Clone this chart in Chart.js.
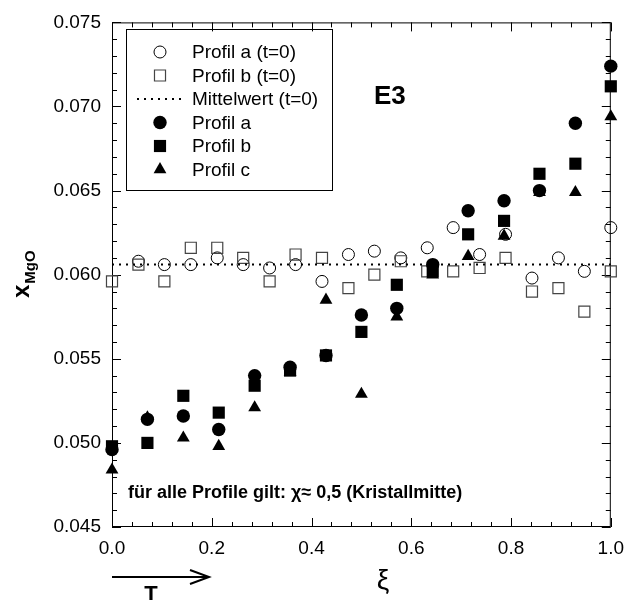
<!DOCTYPE html>
<html>
<head>
<meta charset="utf-8">
<script src="https://cdn.jsdelivr.net/npm/chart.js@4/dist/chart.umd.min.js"></script>
<style>
  html, body { margin: 0; padding: 0; background: #fff; }
  #wrap { width: 634px; height: 600px; }
</style>
</head>
<body>
<div id="wrap"><canvas id="c" width="634" height="600"></canvas></div>
<script>
// Initial profiles (t=0), measured at 20 positions along the crystal
const xiT0 = [0, 0.053, 0.105, 0.158, 0.211, 0.263, 0.316, 0.368, 0.421, 0.474,
              0.526, 0.579, 0.632, 0.684, 0.737, 0.789, 0.842, 0.895, 0.947, 1.0];
const profilAT0 = [null, 0.0608, 0.0606, 0.0606, 0.0610, 0.0606, 0.0604, 0.0606, 0.0596, 0.0612,
                   0.0614, 0.0610, 0.0616, 0.0628, 0.0612, 0.0624, 0.0598, 0.0610, 0.0602, 0.0628];
const profilBT0 = [0.0596, 0.0606, 0.0596, 0.0616, 0.0616, 0.0610, 0.0596, 0.0612, 0.0610, 0.0592,
                   0.0600, 0.0608, 0.0602, 0.0602, 0.0604, 0.0610, 0.0590, 0.0592, 0.0578, 0.0602];
const mittelwertT0 = [0.0606];

// Profiles after the run, 15 positions
const xiProfil = [0, 0.071, 0.143, 0.214, 0.286, 0.357, 0.429, 0.5, 0.571, 0.643, 0.714, 0.786, 0.857, 0.929, 1.0];
const profilA = [0.0496, 0.0514, 0.0516, 0.0508, 0.0540, 0.0545, 0.0552, 0.0576, 0.0580, 0.0606, 0.0638, 0.0644, 0.0650, 0.0690, 0.0724];
const profilB = [0.0498, 0.0500, 0.0528, 0.0518, 0.0534, 0.0543, 0.0552, 0.0566, 0.0594, 0.0602, 0.0624, 0.0632, 0.0660, 0.0666, 0.0712];
const profilC = [0.0484, 0.0515, 0.0503, 0.0498, 0.0521, 0.0542, 0.0585, 0.0529, 0.0575, 0.0600, 0.0611, 0.0623, 0.0649, 0.0649, 0.0694];

// Axis ranges and tick labels
const xRange = [0, 1];
const yRange = [0.045, 0.075];
const xTickLabels = ['0.0', '0.2', '0.4', '0.6', '0.8', '1.0'];
const yTickLabels = ['0.045', '0.050', '0.055', '0.060', '0.065', '0.070', '0.075'];

const FONT = "'Liberation Sans', Arial, Helvetica, sans-serif";
Chart.defaults.font.family = FONT;
Chart.defaults.color = '#000';

const toPoints = (xs, ys) => xs.map((x, i) => ({ x, y: ys[i] })).filter(p => p.y !== null);

const datasets = [
  { label: 'Profil a (t=0)', data: toPoints(xiT0, profilAT0), pointStyle: 'circle', pointRadius: 6,
    backgroundColor: 'rgba(0,0,0,0)', borderColor: '#000', borderWidth: 1, order: 5 },
  { label: 'Profil b (t=0)', data: toPoints(xiT0, profilBT0), pointStyle: 'rect', pointRadius: 7.8,
    backgroundColor: 'rgba(0,0,0,0)', borderColor: '#444', borderWidth: 1.2, order: 4 },
  { label: 'Mittelwert (t=0)', type: 'line', data: xRange.map(x => ({ x, y: mittelwertT0[0] })),
    showLine: true, pointRadius: 0, borderColor: '#000', borderWidth: 2, borderDash: [2, 5], order: 3 },
  { label: 'Profil a', data: toPoints(xiProfil, profilA), pointStyle: 'circle', pointRadius: 6.7,
    backgroundColor: '#000', borderColor: '#000', borderWidth: 0, order: 0 },
  { label: 'Profil b', data: toPoints(xiProfil, profilB), pointStyle: 'rect', pointRadius: 8.6,
    backgroundColor: '#000', borderColor: '#000', borderWidth: 0, order: 1 },
  { label: 'Profil c', data: toPoints(xiProfil, profilC), pointStyle: 'triangle', pointRadius: 7.4,
    backgroundColor: '#000', borderColor: '#000', borderWidth: 0, order: 2 }
];
datasets.forEach(d => { d.clip = false; d.pointHoverRadius = d.pointRadius; });

// Frame with inward major/minor ticks on all four sides
const framePlugin = {
  id: 'frame',
  beforeDatasetsDraw(chart) {
    const { ctx, chartArea: a, scales: { x, y } } = chart;
    ctx.save();
    ctx.strokeStyle = '#000';
    ctx.lineWidth = 1;
    ctx.strokeRect(a.left + 0.5, a.top + 0.5, a.right - a.left - 1, a.bottom - a.top - 1);
    ctx.beginPath();
    for (let i = 0; i <= 25; i++) {
      const px = Math.round(x.getPixelForValue(i * 0.04)) + 0.5;
      const len = i % 5 === 0 ? 9 : 5;
      ctx.moveTo(px, a.bottom); ctx.lineTo(px, a.bottom - len);
      ctx.moveTo(px, a.top); ctx.lineTo(px, a.top + len);
    }
    for (let i = 0; i <= 30; i++) {
      const py = Math.round(y.getPixelForValue(0.045 + i * 0.001)) + 0.5;
      const len = i % 5 === 0 ? 9 : 5;
      ctx.moveTo(a.left, py); ctx.lineTo(a.left + len, py);
      ctx.moveTo(a.right, py); ctx.lineTo(a.right - len, py);
    }
    ctx.stroke();
    ctx.restore();
  }
};

// Legend box, labels and axis titles
const textPlugin = {
  id: 'texts',
  afterDraw(chart) {
    const { ctx } = chart;
    ctx.save();

    // legend
    ctx.strokeStyle = '#000';
    ctx.lineWidth = 1;
    ctx.strokeRect(126.5, 29.5, 206, 161);
    const rows = [52, 75.5, 99, 122.5, 146, 169.5];
    ctx.font = '19px ' + FONT;
    ctx.textBaseline = 'middle';
    ctx.textAlign = 'left';
    chart.data.datasets.forEach((d, i) => {
      const yy = rows[i];
      if (d.type === 'line') {
        ctx.save();
        ctx.strokeStyle = d.borderColor;
        ctx.lineWidth = d.borderWidth;
        ctx.setLineDash(d.borderDash);
        ctx.beginPath();
        ctx.moveTo(137, yy); ctx.lineTo(182, yy);
        ctx.stroke();
        ctx.restore();
      } else {
        ctx.fillStyle = d.backgroundColor;
        ctx.strokeStyle = d.borderColor;
        ctx.lineWidth = d.borderWidth;
        Chart.helpers.drawPoint(ctx, { pointStyle: d.pointStyle, radius: d.pointRadius, rotation: 0, borderWidth: d.borderWidth }, 160, yy);
      }
      ctx.fillStyle = '#000';
      ctx.fillText(d.label, 192, yy + 1);
    });

    // panel label
    ctx.font = 'bold 26px ' + FONT;
    ctx.fillText('E3', 374, 97);

    // note
    ctx.font = 'bold 18px ' + FONT;
    ctx.fillText('für alle Profile gilt: χ≈ 0,5 (Kristallmitte)', 128, 493);

    // x title
    ctx.font = '28px ' + FONT;
    ctx.textAlign = 'center';
    ctx.fillText('ξ', 383, 581);

    // temperature arrow
    ctx.lineWidth = 2;
    ctx.beginPath();
    ctx.moveTo(112, 577); ctx.lineTo(209, 577);
    ctx.moveTo(190, 570); ctx.lineTo(209, 577); ctx.lineTo(190, 584);
    ctx.stroke();
    ctx.font = 'bold 22px ' + FONT;
    ctx.textBaseline = 'alphabetic';
    ctx.fillText('T', 151, 601);

    // y title with subscript
    ctx.translate(29, 298);
    ctx.rotate(-Math.PI / 2);
    ctx.textAlign = 'left';
    ctx.font = 'bold 24px ' + FONT;
    ctx.fillText('x', 0, 0);
    const w = ctx.measureText('x').width;
    ctx.font = 'bold 15px ' + FONT;
    ctx.fillText('MgO', w + 1, 6);

    ctx.restore();
  }
};

new Chart(document.getElementById('c'), {
  type: 'scatter',
  data: { datasets },
  options: {
    responsive: false,
    animation: false,
    devicePixelRatio: 1,
    layout: { padding: { top: 20, right: 17, left: 0, bottom: 0 } },
    plugins: { legend: { display: false }, tooltip: { enabled: false } },
    scales: {
      x: {
        type: 'linear', min: xRange[0], max: xRange[1],
        afterFit: s => { s.height = 73; },
        afterBuildTicks: s => { s.ticks = xTickLabels.map(t => ({ value: parseFloat(t) })); },
        ticks: { padding: 10, font: { size: 19 }, color: '#000', maxRotation: 0,
                 callback: (v) => xTickLabels.find(t => Math.abs(parseFloat(t) - v) < 1e-9) },
        grid: { display: false, drawTicks: false },
        border: { display: false }
      },
      y: {
        type: 'linear', min: yRange[0], max: yRange[1],
        afterFit: s => { s.width = 112; },
        afterBuildTicks: s => { s.ticks = yTickLabels.map(t => ({ value: parseFloat(t) })); },
        ticks: { padding: 11, font: { size: 19 }, color: '#000',
                 callback: (v) => yTickLabels.find(t => Math.abs(parseFloat(t) - v) < 1e-9) },
        grid: { display: false, drawTicks: false },
        border: { display: false }
      }
    }
  },
  plugins: [framePlugin, textPlugin]
});
</script>
</body>
</html>
